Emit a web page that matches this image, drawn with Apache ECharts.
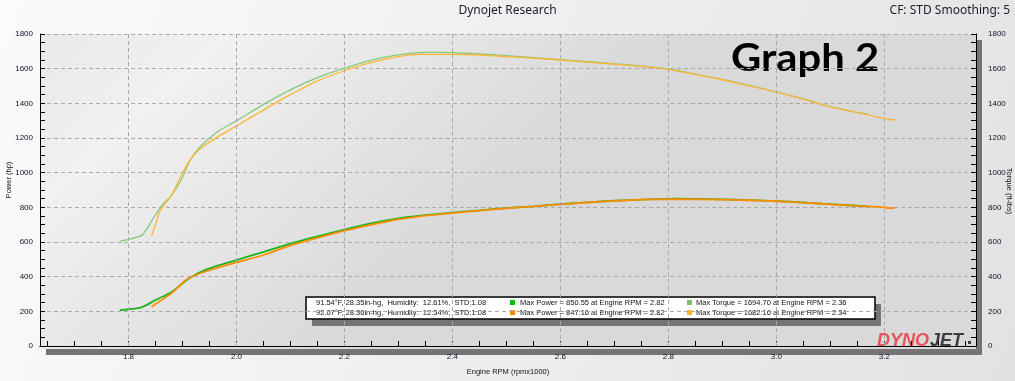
<!DOCTYPE html>
<html>
<head>
<meta charset="utf-8">
<script src="https://cdn.jsdelivr.net/npm/echarts@6/dist/echarts.min.js"></script>
<style>html,body{margin:0;padding:0;}#c{width:1015px;height:381px;}</style>
</head>
<body>
<div id="c"></div>
<script>
// ---- data ----
const torque1 = [[1.784,604],[1.80,615],[1.824,638],[1.835,680],[1.846,737],[1.864,819],[1.880,870],[1.899,966],[1.914,1070],[1.932,1147],[1.963,1232],[2.00,1299],[2.056,1404],[2.10,1478],[2.149,1547],[2.20,1603],[2.247,1647],[2.30,1680],[2.36,1695],[2.40,1693],[2.45,1685],[2.50,1675],[2.55,1664],[2.60,1652],[2.65,1640],[2.70,1628],[2.75,1615],[2.80,1598],[2.85,1569],[2.90,1538],[2.95,1503],[3.00,1466],[3.05,1425],[3.10,1381],[3.15,1348],[3.17,1337]];
const torque2 = [[1.843,638],[1.850,700],[1.858,775],[1.870,830],[1.880,870],[1.901,1004],[1.920,1099],[1.942,1160],[1.970,1215],[2.00,1270],[2.068,1394],[2.10,1450],[2.149,1528],[2.20,1588],[2.247,1633],[2.30,1669],[2.34,1682],[2.40,1682],[2.45,1678],[2.50,1670],[2.55,1661],[2.60,1650],[2.65,1638],[2.70,1626],[2.75,1613],[2.80,1596],[2.85,1567],[2.90,1536],[2.95,1501],[3.00,1464],[3.05,1424],[3.10,1380],[3.15,1347],[3.20,1312],[3.22,1303]];
const power1 = [[1.784,207],[1.80,212],[1.824,223],[1.85,265],[1.88,312],[1.914,394],[1.945,442],[2.00,496],[2.044,537],[2.10,591],[2.13,616],[2.20,672],[2.247,706],[2.30,736],[2.35,755],[2.40,770],[2.45,783],[2.50,796],[2.55,806],[2.60,818],[2.65,829],[2.70,838],[2.75,845],[2.82,850.5],[2.90,846],[2.95,842],[3.00,836],[3.05,828],[3.10,818],[3.15,809],[3.17,806]];
const power2 = [[1.843,227],[1.86,262],[1.88,305],[1.91,388],[1.95,437],[2.00,482],[2.05,525],[2.10,580],[2.13,607],[2.20,665],[2.247,698],[2.30,730],[2.34,748],[2.40,767],[2.45,781],[2.50,794],[2.55,805],[2.60,817],[2.65,828],[2.70,837],[2.75,844],[2.82,847],[2.90,845],[2.95,841],[3.00,835],[3.05,827],[3.10,817],[3.15,808],[3.20,800],[3.21,795],[3.22,797]];
const xLabels = [1.8,2.0,2.2,2.4,2.6,2.8,3.0,3.2];
const xMinorTicks = [1.65,1.70,1.75,1.80,1.85,1.90,1.95,2.00,2.05,2.10,2.15,2.20,2.25,2.30,2.35,2.40,2.45,2.50,2.55,2.60,2.65,2.70,2.75,2.80,2.85,2.90,2.95,3.00,3.05,3.10,3.15,3.20,3.25,3.30,3.35];
const legendRow1 = ['91.54\u00b0F, 28.35in-hg,  Humidity:  12.61%,  STD:1.08','Max Power = 850.55 at Engine RPM = 2.82','Max Torque = 1694.70 at Engine RPM = 2.36'];
const legendRow2 = ['92.07\u00b0F, 28.36in-hg,  Humidity:  12.54%,  STD:1.08','Max Power = 847.16 at Engine RPM = 2.82','Max Torque = 1682.16 at Engine RPM = 2.34'];

const C_P1='#1cb41c', C_P2='#ff8c00', C_T1='#86c97a', C_T2='#ffb533';
const F='Liberation Sans';
const chart = echarts.init(document.getElementById('c'), null, {renderer:'canvas'});
const lblStyle = {fontFamily:F, fontSize:8, color:'#10102a'};
const gridColor = '#a9a9a9';
const plain = v => String(v);
const GL=40, GT=34, GW=936, GH=315;

const lg = (txt,x,y)=>({type:'text', x:x, y:y, style:{text:txt, fontFamily:F, fontSize:7.5, fill:'#111', textVerticalAlign:'middle'}});
const sq = (col,x,y)=>({type:'rect', shape:{x:x,y:y,width:5,height:5}, style:{fill:col}});
const yAx = (pos, margin) => ({type:'value',position:pos,min:0,max:1800,interval:200,
  axisLine:{show:true,lineStyle:{color:'#000'}},
  axisTick:{show:true,inside:true,length:5,lineStyle:{color:'#000'}},
  minorTick:{show:true,splitNumber:4,length:5,lineStyle:{color:'#000'}},
  axisLabel:{margin:margin,formatter:plain,...lblStyle},
  splitLine:{show:pos==='left',lineStyle:{color:gridColor,type:[4,3],width:1}},
  minorSplitLine:{show:false}});

chart.setOption({
  animation:false,
  backgroundColor:{type:'linear',x:0,y:0,x2:1,y2:1,colorStops:[{offset:0,color:'#fbfbfb'},{offset:1,color:'#e2e2e2'}]},
  grid:{left:GL,right:1015-GL-GW,top:GT,bottom:381-GT-GH,show:false},
  xAxis:[
    {type:'value',min:1.6361,max:3.3699,
      axisLine:{show:true,lineStyle:{color:'#000',width:1}},
      axisTick:{show:true,inside:true,length:5,customValues:xMinorTicks,lineStyle:{color:'#000'}},
      axisLabel:{customValues:xLabels,formatter:v=>v.toFixed(1),margin:7,...lblStyle},
      splitLine:{show:false},
      name:'Engine RPM (rpmx1000)',nameLocation:'middle',nameGap:22,nameTextStyle:{fontFamily:F,fontSize:7.5,color:'#111'}},
    {type:'value',position:'top',min:1.6361,max:3.3699,
      axisLine:{show:true,lineStyle:{color:'#000',width:1}},
      axisTick:{show:false},axisLabel:{show:false},splitLine:{show:false}}
  ],
  yAxis:[yAx('left',7), yAx('right',12)],
  series:[
    {type:'line',name:'grid',data:[],z:1,silent:true,
      markLine:{silent:true,symbol:'none',label:{show:false},lineStyle:{color:gridColor,type:[4,3],width:1},
        data:xLabels.map(v=>({xAxis:v}))}},
    {type:'line',name:'Torque 1',data:torque1,yAxisIndex:1,showSymbol:false,smooth:0.3,lineStyle:{color:C_T1,width:1.3},itemStyle:{color:C_T1}},
    {type:'line',name:'Torque 2',data:torque2,yAxisIndex:1,showSymbol:false,smooth:0.3,lineStyle:{color:C_T2,width:1.3},itemStyle:{color:C_T2}},
    {type:'line',name:'Power 1',data:power1,yAxisIndex:0,showSymbol:false,smooth:0.3,lineStyle:{color:C_P1,width:1.8},itemStyle:{color:C_P1}},
    {type:'line',name:'Power 2',data:power2,yAxisIndex:0,showSymbol:false,smooth:0.3,lineStyle:{color:C_P2,width:1.8},itemStyle:{color:C_P2}}
  ],
  graphic:[
    {type:'rect',z:-10,silent:true,shape:{x:GL+6,y:GT+6,width:GW,height:GH},style:{fill:'#747474'}},
    {type:'rect',z:-9,silent:true,shape:{x:GL,y:GT,width:GW,height:GH},
      style:{fill:new echarts.graphic.LinearGradient(0,0,0.3,1,[{offset:0,color:'#e9e9e9'},{offset:0.3,color:'#f1f1f1'},{offset:1,color:'#d9d9d9'}])}},
    {type:'text',left:'center',top:5,style:{text:'Dynojet Research',fontFamily:'Noto Sans',fontSize:12,fill:'#1a1a2a'}},
    {type:'text',right:5,top:5,style:{text:'CF: STD Smoothing: 5',fontFamily:'Noto Sans',fontSize:12,fill:'#1a1a2a'}},
    {type:'text',x:731,y:40,scaleX:1.1,style:{text:'Graph 2',fontFamily:'Lato',fontWeight:'bold',fontSize:38,fill:'#000'}},
    {type:'text',x:9,y:180,rotation:Math.PI/2,style:{text:'Power (hp)',fontFamily:F,fontSize:7.5,fill:'#111',textAlign:'center',textVerticalAlign:'middle'}},
    {type:'text',x:1009,y:191,rotation:-Math.PI/2,style:{text:'Torque (ft-lbs)',fontFamily:F,fontSize:7.5,fill:'#111',textAlign:'center',textVerticalAlign:'middle'}},
    {type:'text',x:877,y:331,scaleX:0.95,style:{text:'DYNO',fontFamily:F,fontWeight:'bold',fontStyle:'italic',fontSize:19,fill:'#e8525c'}},
    {type:'text',x:930,y:331,scaleX:0.95,style:{text:'JET',fontFamily:F,fontWeight:'bold',fontStyle:'italic',fontSize:19,fill:'#3c3c44'}},
    {type:'rect',shape:{x:968,y:341,width:3,height:3},style:{fill:'#3c3c44'}},
    {type:'group',x:306,y:297,z:100,children:[
      {type:'rect',shape:{x:6,y:7,width:569,height:22},style:{fill:'#747474'}},
      {type:'rect',shape:{x:0,y:0,width:569,height:22},style:{fill:'#fff',stroke:'#000',lineWidth:1.5}},
      lg(legendRow1[0],10,6), lg(legendRow1[1],214,6), lg(legendRow1[2],390,6),
      lg(legendRow2[0],10,16), lg(legendRow2[1],214,16), lg(legendRow2[2],390,16),
      sq('#00c000',204,3), sq('#7fbf6f',381,3), sq('#ff8c00',204,13), sq('#ffb733',381,13)
    ]}
  ]
});
</script>
</body>
</html>
